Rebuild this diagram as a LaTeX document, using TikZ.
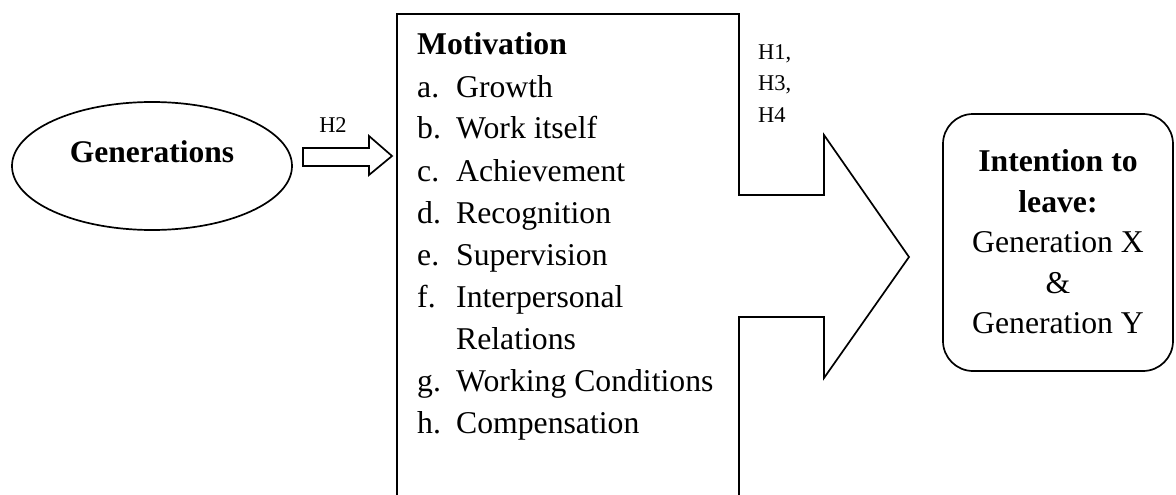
\documentclass[tikz,border=0pt]{standalone}
\usepackage{fontspec}
\setmainfont{Liberation Serif}
\usetikzlibrary{shapes.geometric}
\tikzset{
  outline/.style={draw=black, line width=1.7pt, line join=miter},
  bigtxt/.style={font=\fontsize{31.7}{40.5}\selectfont, inner sep=0pt},
  smalltxt/.style={font=\fontsize{22.5}{31}\selectfont, inner sep=0pt, anchor=base west},
  item/.style={bigtxt, anchor=base west}
}
\begin{document}
\begin{tikzpicture}[x=1pt, y=-1pt]
\useasboundingbox (0,0) rectangle (1176,495);

% Generations ellipse
\node[outline, ellipse, minimum width=280pt, minimum height=128pt, inner sep=0pt] (gen) at (152,166) {};
\node[bigtxt, anchor=base, font=\fontsize{31.5}{40}\selectfont\bfseries] (gentext) at (152,162) {Generations};

% H2 block arrow
\coordinate (a1) at (303,148);
\coordinate (a2) at (369,148);
\coordinate (a3) at (369,136);
\coordinate (a4) at (392,156);
\coordinate (a5) at (369,175);
\coordinate (a6) at (369,166);
\coordinate (a7) at (303,166);
\draw[outline] (a1) -- (a2) -- (a3) -- (a4) -- (a5) -- (a6) -- (a7) -- cycle;
\node[smalltxt, anchor=base] (h2) at (333,132) {H2};

% Motivation box merged with the big arrow
\coordinate (m0) at (397,495);
\coordinate (m1) at (397,14);
\coordinate (m2) at (739,14);
\coordinate (m3) at (739,195);
\coordinate (m4) at (824,195);
\coordinate (m5) at (824,135);
\coordinate (tip) at (909,257);
\coordinate (m6) at (824,378);
\coordinate (m7) at (824,317);
\coordinate (m8) at (739,317);
\coordinate (m9) at (739,495);
\draw[outline] (m0) -- (m1) -- (m2) -- (m3) -- (m4) -- (m5) -- (tip) -- (m6) -- (m7) -- (m8) -- (m9);

\node[item, font=\fontsize{31.7}{40}\selectfont\bfseries] (mot) at (417,55) {Motivation};
\foreach \l/\t [count=\i] in {a./Growth, b./Work itself, c./Achievement, d./Recognition, e./Supervision, f./Interpersonal, /Relations, g./Working Conditions, h./Compensation}
  \node[item] (it\i) at (417,55+42*\i) {\makebox[39pt][l]{\l}\t};

% H1, H3, H4
\node[smalltxt] (h1) at (758,60) {H1,};
\node[smalltxt] (h3) at (758,91) {H3,};
\node[smalltxt] (h4) at (758,122) {H4};

% Intention to leave
\node[outline, rounded corners=30pt, minimum width=230pt, minimum height=257pt, inner sep=0pt] (int) at (1058,242.5) {};
\node[bigtxt, align=center] (inttext) at (1058,242) {\textbf{Intention to}\\\textbf{leave:}\\Generation X\\\&\\Generation Y};
\end{tikzpicture}
\end{document}
